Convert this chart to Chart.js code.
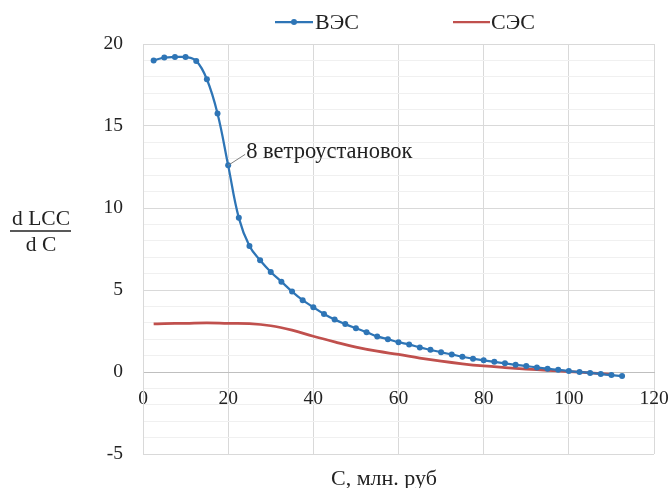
<!DOCTYPE html>
<html>
<head>
<meta charset="utf-8">
<script src="https://cdn.jsdelivr.net/npm/chart.js@4"></script>
<style>html,body{margin:0;padding:0;background:#fff}</style>
</head>
<body>
<canvas id="chart" width="671" height="488"></canvas>
<script>
// data
const windX = [2.5, 5, 7.5, 10, 12.5, 15, 17.5, 20, 22.5, 25, 27.5, 30, 32.5, 35, 37.5, 40, 42.5, 45, 47.5, 50,
  52.5, 55, 57.5, 60, 62.5, 65, 67.5, 70, 72.5, 75, 77.5, 80, 82.5, 85, 87.5, 90, 92.5, 95, 97.5, 100,
  102.5, 105, 107.5, 110, 112.5];
const windY = [19.0, 19.17, 19.2, 19.2, 18.97, 17.85, 15.76, 12.6, 9.4, 7.68, 6.81, 6.10, 5.51, 4.91, 4.38, 3.95, 3.54, 3.20, 2.92, 2.67,
  2.43, 2.17, 2.0, 1.82, 1.68, 1.50, 1.35, 1.20, 1.07, 0.93, 0.81, 0.71, 0.62, 0.53, 0.44, 0.36, 0.28, 0.20, 0.13, 0.06,
  0.0, -0.06, -0.12, -0.19, -0.25];
const solarX = [2.5, 5, 10, 15, 20, 25, 30, 35, 40, 45, 50, 55, 60, 65, 70, 75, 80, 85, 90, 95, 100, 105, 110];
const solarY = [2.93, 2.95, 2.97, 3.0, 2.97, 2.95, 2.82, 2.55, 2.18, 1.84, 1.52, 1.27, 1.07, 0.85, 0.66, 0.5, 0.37, 0.27, 0.18, 0.1, 0.03, -0.06, -0.15];
const xTicks = [0, 20, 40, 60, 80, 100, 120];
const yTicks = [-5, 0, 5, 10, 15, 20];
const seriesNames = ['ВЭС', 'СЭС'];
const noteText = '8 ветроустановок';
const noteAt = {x: 20, y: 12.6};

const BLUE = '#2e75b6';
const RED = '#c0504d';
const SERIF = "'Liberation Serif', 'Times New Roman', serif";

Chart.defaults.font.family = SERIF;
Chart.defaults.font.size = 19.5;
Chart.defaults.color = '#222';

const toPoints = (xs, ys) => xs.map((x, i) => ({x: x, y: ys[i]}));

// legend, note and axis titles drawn by hand
const extras = {
  id: 'extras',
  afterDatasetsDraw(chart) {
    const c = chart.ctx;
    const xs = chart.scales.x, ys = chart.scales.y;
    c.save();
    c.font = '22px ' + SERIF;
    c.fillStyle = '#222';
    c.textBaseline = 'middle';
    c.textAlign = 'left';

    // legend
    c.lineWidth = 2.25;
    c.strokeStyle = BLUE;
    c.beginPath(); c.moveTo(275, 22); c.lineTo(313, 22); c.stroke();
    c.fillStyle = BLUE;
    c.beginPath(); c.arc(294, 22, 3, 0, Math.PI * 2); c.fill();
    c.fillStyle = '#222';
    c.fillText(seriesNames[0], 315, 23);
    c.strokeStyle = RED;
    c.beginPath(); c.moveTo(453, 22); c.lineTo(490, 22); c.stroke();
    c.fillText(seriesNames[1], 491, 23);

    // note with leader line
    const px = xs.getPixelForValue(noteAt.x), py = ys.getPixelForValue(noteAt.y);
    c.strokeStyle = '#7f7f7f';
    c.lineWidth = 1;
    c.beginPath(); c.moveTo(px, py); c.lineTo(px + 17, py - 11); c.stroke();
    c.font = '22.5px ' + SERIF;
    c.textBaseline = 'alphabetic';
    c.fillText(noteText, px + 18, py - 7);

    // x title
    c.font = '22px ' + SERIF;
    c.textAlign = 'center';
    c.textBaseline = 'middle';
    c.fillText('С, млн. руб', 384, 479);

    // y title as a fraction
    c.font = '21.5px ' + SERIF;
    c.fillText('d LCC', 41, 219);
    c.fillText('d C', 41, 245);
    c.strokeStyle = '#222';
    c.lineWidth = 1.3;
    c.beginPath(); c.moveTo(10, 231); c.lineTo(71, 231); c.stroke();
    c.restore();
  }
};

new Chart(document.getElementById('chart'), {
  type: 'line',
  data: {
    datasets: [{
      label: seriesNames[0],
      data: toPoints(windX, windY),
      borderColor: BLUE,
      backgroundColor: BLUE,
      borderWidth: 2.25,
      pointRadius: 3,
      pointBorderWidth: 0,
      tension: 0.4
    }, {
      label: seriesNames[1],
      data: toPoints(solarX, solarY),
      borderColor: RED,
      backgroundColor: RED,
      borderWidth: 2.75,
      pointRadius: 0,
      tension: 0.4
    }]
  },
  options: {
    responsive: false,
    animation: false,
    layout: {padding: {left: 0, top: 44, right: 17, bottom: 34}},
    plugins: {
      legend: {display: false},
      tooltip: {enabled: false}
    },
    scales: {
      x: {
        type: 'linear',
        position: {y: 0},
        min: xTicks[0],
        max: xTicks[xTicks.length - 1],
        afterFit: (s) => { s.paddingRight = 0; s.paddingLeft = 0; },
        ticks: {stepSize: 20, padding: 15, maxRotation: 0, autoSkip: false},
        grid: {color: '#d9d9d9', drawTicks: false},
        border: {color: '#bfbfbf'}
      },
      y: {
        min: yTicks[0],
        max: yTicks[yTicks.length - 1],
        afterFit: (s) => { s.width = 143; },
        ticks: {
          stepSize: 1,
          padding: 20,
          autoSkip: false,
          callback: (v) => (yTicks.includes(v) ? v : '')
        },
        grid: {
          drawTicks: false,
          color: (ctx) => (yTicks.includes(ctx.tick.value) ? '#d9d9d9' : '#f0f0f0')
        },
        border: {color: '#d9d9d9'}
      }
    }
  },
  plugins: [extras]
});
</script>
</body>
</html>
